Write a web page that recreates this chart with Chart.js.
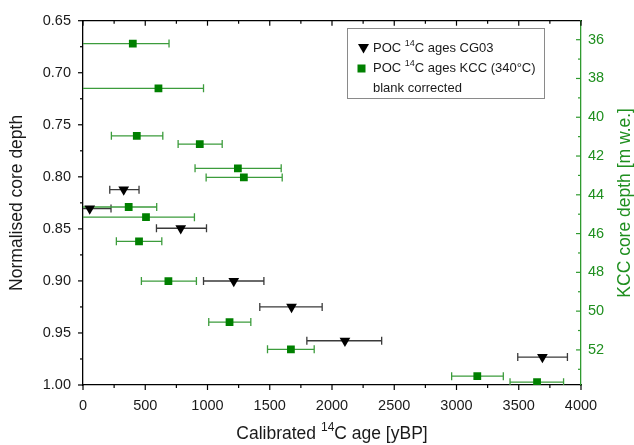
<!DOCTYPE html>
<html>
<head>
<meta charset="utf-8">
<script src="https://cdn.jsdelivr.net/npm/chart.js@4.4.0/dist/chart.umd.min.js"></script>
<style>
  html, body { margin: 0; padding: 0; background: #fff; }
  #wrap { width: 634px; height: 445px; position: relative; }
</style>
</head>
<body>
<div id="wrap"><canvas id="ages"></canvas></div>
<script>
// POC 14C ages, CG03 core (black triangles)
let cgAge = [327, 54, 785, 1211, 1675, 2104, 3690];
let cgDepth = [0.8123, 0.8305, 0.8494, 0.9001, 0.925, 0.9575, 0.9732];
let cgAgeMin = [215, -100, 590, 968, 1420, 1798, 3492];
let cgAgeMax = [450, 225, 992, 1453, 1921, 2399, 3891];

// POC 14C ages, KCC core (green squares)
let kccAge = [400, 606, 432, 938, 1244, 1292, 367, 506, 450, 686, 1177, 1670, 3167, 3647];
let kccDepth = [0.672, 0.715, 0.7606, 0.7685, 0.7918, 0.8006, 0.829, 0.8388, 0.862, 0.9002, 0.9395, 0.9657, 0.9915, 0.9973];
let kccAgeMin = [-200, -100, 228, 764, 900, 989, -50, -100, 268, 469, 1010, 1482, 2961, 3430];
let kccAgeMax = [691, 968, 641, 1118, 1592, 1600, 592, 895, 633, 911, 1348, 1857, 3376, 3860];

// right axis: KCC depth range matching the normalised 0.65 - 1.00 range
let kccDepthRange = [35.02, 53.81];

const black = '#000000';
const green = '#008000';
const axisGreen = '#2f9a2f';
const FONT = '"Liberation Sans", Arial, sans-serif';

Chart.defaults.font.family = FONT;

function richText(ctx, parts, x, y, size, align) {
  const fontFor = p => (p.sup ? Math.round(size * 0.68) : size) + 'px ' + FONT;
  let w = 0;
  parts.forEach(p => { ctx.font = fontFor(p); w += ctx.measureText(p.t).width; });
  let cx = align === 'center' ? x - w / 2 : x;
  ctx.textAlign = 'left';
  ctx.textBaseline = 'middle';
  parts.forEach(p => {
    ctx.font = fontFor(p);
    ctx.fillText(p.t, cx, p.sup ? y - size * 0.38 : y);
    cx += ctx.measureText(p.t).width;
  });
}

const xTitle = [{t: 'Calibrated '}, {t: '14', sup: true}, {t: 'C age [yBP]'}];
const y2Title = [{t: 'KCC core depth [m w.e.]'}];
const legendRows = [
  [{t: 'POC '}, {t: '14', sup: true}, {t: 'C ages CG03'}],
  [{t: 'POC '}, {t: '14', sup: true}, {t: 'C ages KCC (340°C)'}],
  [{t: 'blank corrected'}]
];

const errSets = [
  {depth: cgDepth, min: cgAgeMin, max: cgAgeMax, color: '#3a3a3a'},
  {depth: kccDepth, min: kccAgeMin, max: kccAgeMax, color: '#3c9c3c'}
];

const errorBars = {
  id: 'errorBars',
  beforeDatasetsDraw(chart) {
    const {ctx, chartArea: a, scales: {x, y}} = chart;
    ctx.save();
    ctx.beginPath();
    ctx.rect(a.left, a.top, a.right - a.left, a.bottom - a.top);
    ctx.clip();
    errSets.forEach(e => {
      ctx.strokeStyle = e.color;
      ctx.lineWidth = 1.3;
      e.min.forEach((lo, j) => {
        const py = y.getPixelForValue(e.depth[j]);
        const x0 = x.getPixelForValue(lo);
        const x1 = x.getPixelForValue(e.max[j]);
        ctx.beginPath();
        ctx.moveTo(x0, py); ctx.lineTo(x1, py);
        if (lo > 0) { ctx.moveTo(x0, py - 4); ctx.lineTo(x0, py + 4); }
        ctx.moveTo(x1, py - 4); ctx.lineTo(x1, py + 4);
        ctx.stroke();
      });
    });
    ctx.restore();
  }
};

// tick marks incl. minor ticks (left/bottom outward, top/right inward)
function ticksOn(ctx, scale, major, minor, line, dir, horizontal, color) {
  ctx.strokeStyle = color;
  ctx.lineWidth = 1.2;
  const start = Math.ceil(scale.min / minor - 1e-6);
  const end = Math.floor(scale.max / minor + 1e-6);
  for (let k = start; k <= end; k++) {
    const v = k * minor;
    const isMajor = Math.abs(v / major - Math.round(v / major)) < 1e-6;
    const len = isMajor ? 5 : 3;
    const p = scale.getPixelForValue(v);
    ctx.beginPath();
    if (horizontal) { ctx.moveTo(p, line); ctx.lineTo(p, line + dir * len); }
    else { ctx.moveTo(line, p); ctx.lineTo(line + dir * len, p); }
    ctx.stroke();
  }
}

const axisDecor = {
  id: 'axisDecor',
  afterDraw(chart) {
    const {ctx, chartArea: a, scales} = chart;
    ctx.save();
    ticksOn(ctx, scales.x, 500, 250, a.bottom, 1, true, black);
    ticksOn(ctx, scales.x2, 500, 250, a.top, 1, true, black);
    ticksOn(ctx, scales.y, 0.05, 0.025, a.left, -1, false, black);
    ticksOn(ctx, scales.y2, 2, 1, a.right, -1, false, axisGreen);

    // axis titles with superscript
    ctx.fillStyle = '#1a1a1a';
    richText(ctx, xTitle, (a.left + a.right) / 2, 434, 17.5, 'center');
    ctx.save();
    ctx.translate(625, (a.top + a.bottom) / 2);
    ctx.rotate(-Math.PI / 2);
    ctx.fillStyle = '#1f8f1f';
    richText(ctx, y2Title, 0, 0, 17.5, 'center');
    ctx.restore();

    // legend box
    const bx = 347.5, by = 28.5, bw = 197, bh = 70;
    ctx.fillStyle = '#fff';
    ctx.fillRect(bx, by, bw, bh);
    ctx.strokeStyle = '#8a8a8a';
    ctx.lineWidth = 1;
    ctx.strokeRect(bx, by, bw, bh);
    const rowY = [by + 20, by + 40, by + 60];
    ctx.fillStyle = black;
    ctx.beginPath();
    ctx.moveTo(bx + 10.5, rowY[0] - 4.5);
    ctx.lineTo(bx + 21.5, rowY[0] - 4.5);
    ctx.lineTo(bx + 16, rowY[0] + 5);
    ctx.closePath();
    ctx.fill();
    ctx.fillStyle = green;
    ctx.fillRect(bx + 10, rowY[1] - 4, 8, 8);
    ctx.fillStyle = '#1a1a1a';
    legendRows.forEach((row, i) => richText(ctx, row, bx + 25.5, rowY[i], 13, 'left'));
    ctx.restore();
  }
};

const data = {
  datasets: [
    {
      label: 'POC 14C ages CG03',
      data: cgAge.map((a, i) => ({x: a, y: cgDepth[i]})),
      pointStyle: 'triangle',
      rotation: 180,
      radius: 6.2,
      backgroundColor: black,
      borderColor: black,
      borderWidth: 0
    },
    {
      label: 'POC 14C ages KCC (340°C) blank corrected',
      data: kccAge.map((a, i) => ({x: a, y: kccDepth[i]})),
      pointStyle: 'rect',
      radius: 5.5,
      backgroundColor: green,
      borderColor: green,
      borderWidth: 0
    }
  ]
};

const gridOff = {display: true, drawOnChartArea: false, drawTicks: false};

const config = {
  type: 'scatter',
  data: data,
  options: {
    responsive: true,
    maintainAspectRatio: false,
    animation: false,
    layout: {padding: 0},
    plugins: {
      legend: {display: false},
      tooltip: {enabled: false}
    },
    scales: {
      x: {
        type: 'linear', position: 'bottom', min: 0, max: 4000,
        ticks: {stepSize: 500, color: '#1a1a1a', font: {size: 14.5}, padding: 12, maxRotation: 0,
                callback: v => String(v)},
        grid: gridOff,
        border: {color: black, width: 1.3},
        afterFit: s => { s.height = 60; }
      },
      x2: {
        type: 'linear', axis: 'x', position: 'top', min: 0, max: 4000,
        ticks: {display: false, stepSize: 500},
        grid: gridOff,
        border: {color: black, width: 1.3},
        afterFit: s => { s.height = 14; }
      },
      y: {
        type: 'linear', position: 'left', reverse: true, min: 0.65, max: 1.0,
        ticks: {stepSize: 0.05, color: '#1a1a1a', font: {size: 14.5}, padding: 12,
                callback: v => v.toFixed(2)},
        grid: gridOff,
        border: {color: black, width: 1.3},
        title: {display: true, text: 'Normalised core depth', color: '#1a1a1a',
                font: {size: 17.5}, padding: {top: 7, bottom: 0}},
        afterFit: s => { s.width = 83; }
      },
      y2: {
        type: 'linear', axis: 'y', position: 'right', reverse: true,
        min: kccDepthRange[0], max: kccDepthRange[1],
        ticks: {stepSize: 2, includeBounds: false, color: '#1f8f1f', font: {size: 14.5}, padding: 7,
                callback: v => (Math.abs(v % 2) < 1e-6 ? v : '')},
        grid: gridOff,
        border: {color: axisGreen, width: 1.3},
        afterFit: s => { s.width = 53; }
      }
    }
  },
  plugins: [errorBars, axisDecor]
};

const chart = new Chart(document.getElementById('ages'), config);
</script>
</body>
</html>
